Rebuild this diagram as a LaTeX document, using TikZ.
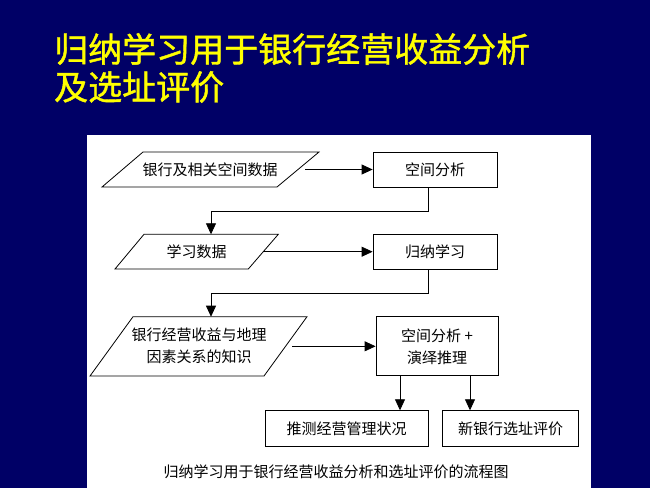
\documentclass[tikz,border=0pt]{standalone}
\usepackage{fontspec}
\setmainfont{Noto Sans CJK SC}
\newfontfamily\ttlfont[FakeBold=1.2]{Noto Sans CJK SC}
\usetikzlibrary{arrows.meta}
\definecolor{navy}{RGB}{0,0,102}
\definecolor{ttl}{RGB}{255,255,0}
\begin{document}
\begin{tikzpicture}[x=1pt,y=-1pt,
  line/.style={draw=black, line width=0.8pt},
  arr/.style={line, -{Triangle[length=11pt,width=10pt]}},
  box/.style={draw=black, line width=0.8pt, inner sep=0pt, align=center, font=\fontsize{15}{22}\selectfont},
  txt/.style={inner sep=0pt, align=center, font=\fontsize{15}{22}\selectfont},
  title/.style={inner sep=0pt, anchor=west, text=ttl, font=\ttlfont\fontsize{34}{38}\selectfont}
]
\fill[navy] (0,0) rectangle (650,488);
\useasboundingbox (0,0) rectangle (650,488);
\fill[white] (87,135) rectangle (591,488);

% title
\node[title] (t1) at (54,49) {归纳学习用于银行经营收益分析};
\node[title] (t2) at (54,87) {及选址评价};

% right boxes
\node[box, minimum width=124pt, minimum height=35pt] (b1) at (435,169.5) {空间分析};
\node[box, minimum width=124pt, minimum height=35pt] (b2) at (435,251.7) {归纳学习};
\node[box, minimum width=122pt, minimum height=59pt] (b3) at (437,346.3) {空间分析 +\\演绎推理};
\node[box, minimum width=163pt, minimum height=36pt] (b4) at (346.5,428.7) {推测经营管理状况};
\node[box, minimum width=136pt, minimum height=36pt] (b5) at (510.5,428.7) {新银行选址评价};

% parallelograms
\draw[line] (143,152) -- (319,152) -- (277,187) -- (102,187) -- cycle;
\node[txt] (p1) at (210,169.5) {银行及相关空间数据};
\coordinate (p1r) at (305,169.5);

\draw[line] (144,234.3) -- (278.3,234.3) -- (248.3,269) -- (115,269) -- cycle;
\node[txt] (p2) at (196.5,251.7) {学习数据};
\coordinate (p2t) at (211,234.3);
\coordinate (p2r) at (263,251.7);

\draw[line] (133,316.7) -- (307,316.7) -- (264,376) -- (90,376) -- cycle;
\node[txt] (p3) at (199,345.5) {银行经营收益与地理\\因素关系的知识};
\coordinate (p3t) at (211,316.7);
\coordinate (p3r) at (292,346.3);

% connectors
\draw[arr] (p1r) -- (b1.west);
\draw[arr] ([xshift=-7pt]b1.south) -- ++(0,23.5) -| (p2t);
\draw[arr] (p2r) -- (b2.west);
\draw[arr] ([xshift=-7pt]b2.south) -- ++(0,24) -| (p3t);
\draw[arr] (p3r) -- (b3.west);
\draw[arr] ([xshift=-37pt]b3.south) -- ([xshift=-37pt]b3.south |- b4.north);
\draw[arr] ([xshift=33pt]b3.south) -- ([xshift=33pt]b3.south |- b5.north);

% caption
\node[txt] (cap) at (336,471.7) {归纳学习用于银行经营收益分析和选址评价的流程图};
\end{tikzpicture}
\end{document}
